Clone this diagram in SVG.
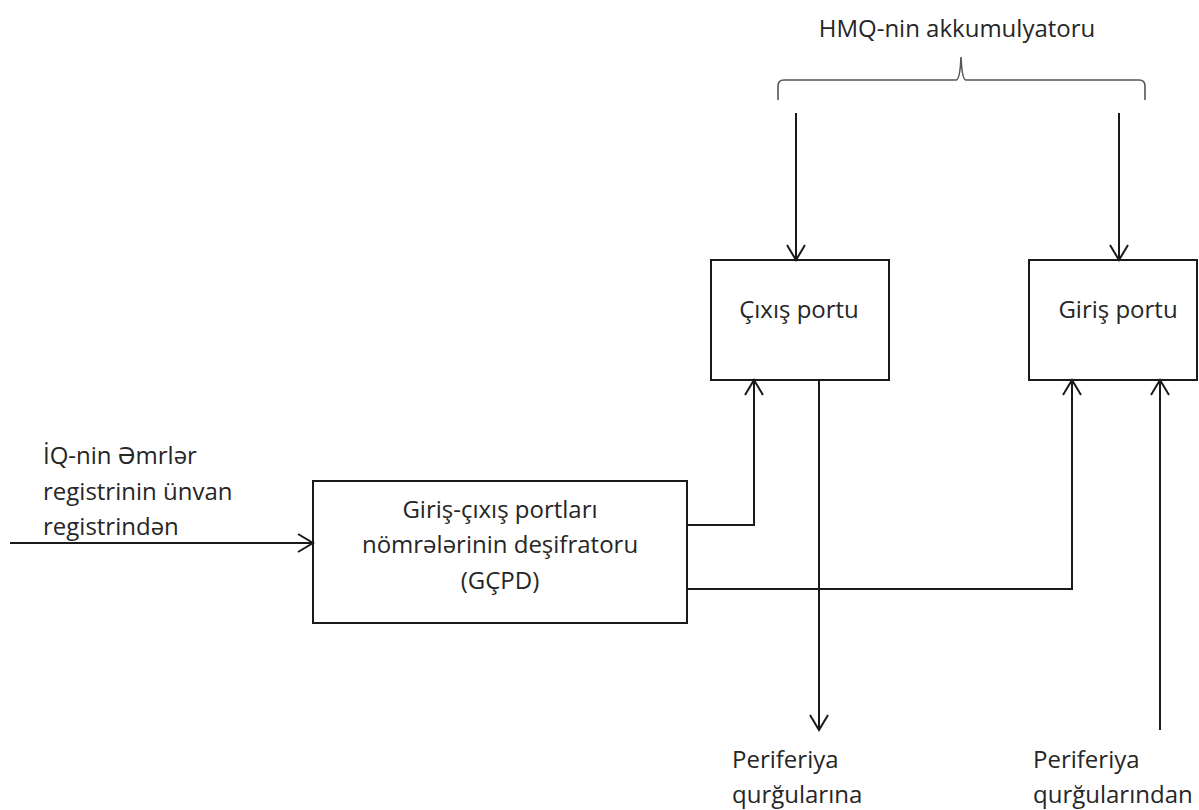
<svg xmlns="http://www.w3.org/2000/svg" width="1199" height="810" viewBox="0 0 1199 810">
<style>
text{font-family:"Open Sans","Noto Sans","Liberation Sans",sans-serif;font-size:24px;fill:#262626}
.box{fill:#fff;stroke:#1a1a1a;stroke-width:2}
.ln{fill:none;stroke:#1a1a1a;stroke-width:2}
.br{fill:none;stroke:#555;stroke-width:1.6}
</style>
<defs>
<marker id="arr" markerUnits="userSpaceOnUse" markerWidth="20" markerHeight="22" viewBox="-17 -11 19 22" refX="0" refY="0" orient="auto">
<path d="M-15,-9 L0,0 L-15,9" fill="none" stroke="#1a1a1a" stroke-width="2"/>
</marker>
</defs>
<g id="accumulator">
<text x="957" y="37" text-anchor="middle">HMQ-nin akkumulyatoru</text>
<path class="br" d="M778,100 L778,86 Q778,80 784,80 L956,80 Q960,80 961,57 Q962,80 966,80 L1139,80 Q1145,80 1145,86 L1145,100"/>
</g>
<g id="cixis">
<rect class="box" x="711" y="260" width="178" height="120"/>
<text x="799" y="318" text-anchor="middle">Çıxış portu</text>
</g>
<g id="giris">
<rect class="box" x="1029" y="260" width="168" height="120"/>
<text x="1118" y="318" text-anchor="middle">Giriş portu</text>
</g>
<g id="gcpd">
<rect class="box" x="313" y="481" width="374" height="142"/>
<text x="500" y="518" text-anchor="middle">Giriş-çıxış portları</text>
<text x="500" y="553" text-anchor="middle">nömrələrinin deşifratoru</text>
<text x="500" y="589" text-anchor="middle">(GÇPD)</text>
</g>
<g id="input-label">
<text x="43" y="464">İQ-nin Əmrlər</text>
<text x="43" y="500">registrinin ünvan</text>
<text x="43" y="535">registrindən</text>
</g>
<g id="out-label">
<text x="732" y="768">Periferiya</text>
<text x="732" y="803">qurğularına</text>
</g>
<g id="in-label">
<text x="1033" y="768">Periferiya</text>
<text x="1033" y="803">qurğularından</text>
</g>
<g id="connectors">
<path class="ln" d="M796,113 L796,260" marker-end="url(#arr)"/>
<path class="ln" d="M1119,113 L1119,260" marker-end="url(#arr)"/>
<path class="ln" d="M10,543 L313,543" marker-end="url(#arr)"/>
<path class="ln" d="M687,525 L754,525 L754,380" marker-end="url(#arr)"/>
<path class="ln" d="M687,589 L1072,589 L1072,380" marker-end="url(#arr)"/>
<path class="ln" d="M819,380 L819,730" marker-end="url(#arr)"/>
<path class="ln" d="M1160,730 L1160,380" marker-end="url(#arr)"/>
</g>
</svg>
